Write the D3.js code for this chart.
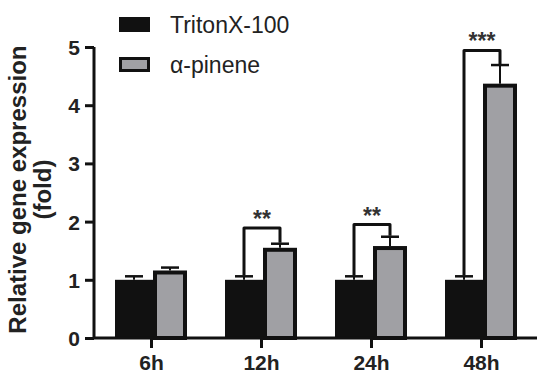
<!DOCTYPE html>
<html>
<head>
<meta charset="utf-8">
<script src="https://cdn.jsdelivr.net/npm/d3@7.9.0/dist/d3.min.js"></script>
<style>
  body { margin: 0; background: #fff; }
  svg { display: block; font-family: "Liberation Sans", Arial, sans-serif; }
</style>
</head>
<body>
<svg id="chart" width="550" height="383"></svg>
<script>
const timepoints = ['6h', '12h', '24h', '48h'];
const tritonMean = [1.0, 1.0, 1.0, 1.0];
const tritonErr = [0.06, 0.06, 0.06, 0.06];
const pineneMean = [1.16, 1.55, 1.58, 4.37];
const pineneErr = [0.05, 0.07, 0.16, 0.32];
const seriesNames = ['TritonX-100', 'α-pinene'];
const yTicks = [0, 1, 2, 3, 4, 5];
// significance: group index, label, bracket height
const sigGroups = [1, 2, 3];
const sigLabels = ['**', '**', '***'];
const sigHeights = [1.89, 1.95, 4.94];

const svg = d3.select('#chart');
const ink = '#111';
const grey = '#a0a0a4';

const y = d3.scaleLinear().domain([0, 5]).range([338, 47]);
const x = d3.scalePoint().domain(timepoints).range([96, 536]).padding(0.5);

// bars: black on left of tick, grey on right
const blackX0 = c => c - 36, blackX1 = c => c + 2;
const greyX0 = c => c + 2, greyX1 = c => c + 36;
const sw = 4;

timepoints.forEach((t, i) => {
    const c = x(t);
    // black bar
    svg.append('rect')
        .attr('x', blackX0(c)).attr('y', y(tritonMean[i]))
        .attr('width', blackX1(c) - blackX0(c))
        .attr('height', y(0) - y(tritonMean[i]))
        .attr('fill', ink);
    // grey bar with thick border
    svg.append('rect')
        .attr('x', greyX0(c) + sw / 2).attr('y', y(pineneMean[i]) + sw / 2)
        .attr('width', greyX1(c) - greyX0(c) - sw)
        .attr('height', y(0) - y(pineneMean[i]) - sw / 2)
        .attr('fill', grey).attr('stroke', ink).attr('stroke-width', sw);

    // error bars
    const bc = (blackX0(c) + blackX1(c)) / 2;
    const gc = (greyX0(c) + greyX1(c)) / 2;
    [[bc, tritonMean[i], tritonErr[i]], [gc, pineneMean[i], pineneErr[i]]].forEach(([cx, m, e]) => {
        svg.append('line')
            .attr('x1', cx).attr('x2', cx)
            .attr('y1', y(m)).attr('y2', y(m + e))
            .attr('stroke', ink).attr('stroke-width', 2);
        svg.append('line')
            .attr('x1', cx - 9).attr('x2', cx + 9)
            .attr('y1', y(m + e)).attr('y2', y(m + e))
            .attr('stroke', ink).attr('stroke-width', 2.5);
    });
});

// significance brackets
sigGroups.forEach((gi, k) => {
    const c = x(timepoints[gi]);
    const bc = (blackX0(c) + blackX1(c)) / 2;
    const gc = (greyX0(c) + greyX1(c)) / 2;
    const top = y(sigHeights[k]);
    svg.append('path')
        .attr('d', `M${bc},${y(tritonMean[gi] + tritonErr[gi]) - 1}V${top}H${gc}V${y(pineneMean[gi] + pineneErr[gi]) - 1}`)
        .attr('fill', 'none').attr('stroke', ink).attr('stroke-width', 3)
        .attr('stroke-linejoin', 'round');
    svg.append('text')
        .attr('x', (bc + gc) / 2).attr('y', top - 1)
        .attr('text-anchor', 'middle')
        .attr('font-size', 23).attr('font-weight', 'bold')
        .attr('fill', '#333')
        .text(sigLabels[k]);
});

// axes
const yAxis = svg.append('g')
    .attr('transform', 'translate(94,0)')
    .call(d3.axisLeft(y).tickValues(yTicks).tickSize(9).tickPadding(5).tickFormat(d3.format('d')));
const xAxis = svg.append('g')
    .attr('transform', `translate(0,${y(0)})`)
    .call(d3.axisBottom(x).tickSize(10).tickPadding(7));

[yAxis, xAxis].forEach(g => {
    g.select('.domain').attr('stroke', ink).attr('stroke-width', 3);
    g.selectAll('.tick line').attr('stroke', ink).attr('stroke-width', 3);
    g.selectAll('.tick text')
        .attr('fill', '#222').attr('font-size', 21).attr('font-weight', 'bold')
        .attr('font-family', '"Liberation Sans", Arial, sans-serif');
});
yAxis.select('.domain').attr('d', `M0,${y(5)}V${y(0)}`);
xAxis.select('.domain').attr('d', `M94,0H537`);
yAxis.selectAll('.tick text').attr('dy', '0.36em');

// y label
svg.append('text')
    .attr('transform', `translate(26,${y(2.55)}) rotate(-90)`)
    .attr('text-anchor', 'middle')
    .attr('font-size', 24).attr('font-weight', 'bold').attr('fill', '#222')
    .text('Relative gene expression');
svg.append('text')
    .attr('transform', `translate(51,${y(2.55)}) rotate(-90)`)
    .attr('text-anchor', 'middle')
    .attr('font-size', 24).attr('font-weight', 'bold').attr('fill', '#222')
    .text('(fold)');

// legend
const legend = svg.append('g').attr('transform', 'translate(119,17)');
seriesNames.forEach((name, i) => {
    const row = legend.append('g').attr('transform', `translate(0,${i * 40})`);
    if (i === 0) {
        row.append('rect').attr('width', 31).attr('height', 15).attr('fill', ink);
    } else {
        row.append('rect').attr('x', 1.5).attr('y', 1.5).attr('width', 28).attr('height', 12)
            .attr('fill', grey).attr('stroke', ink).attr('stroke-width', 3);
    }
    row.append('text')
        .attr('x', 51).attr('y', 16)
        .attr('font-size', 23).attr('fill', '#222')
        .text(name);
});
</script>
</body>
</html>
